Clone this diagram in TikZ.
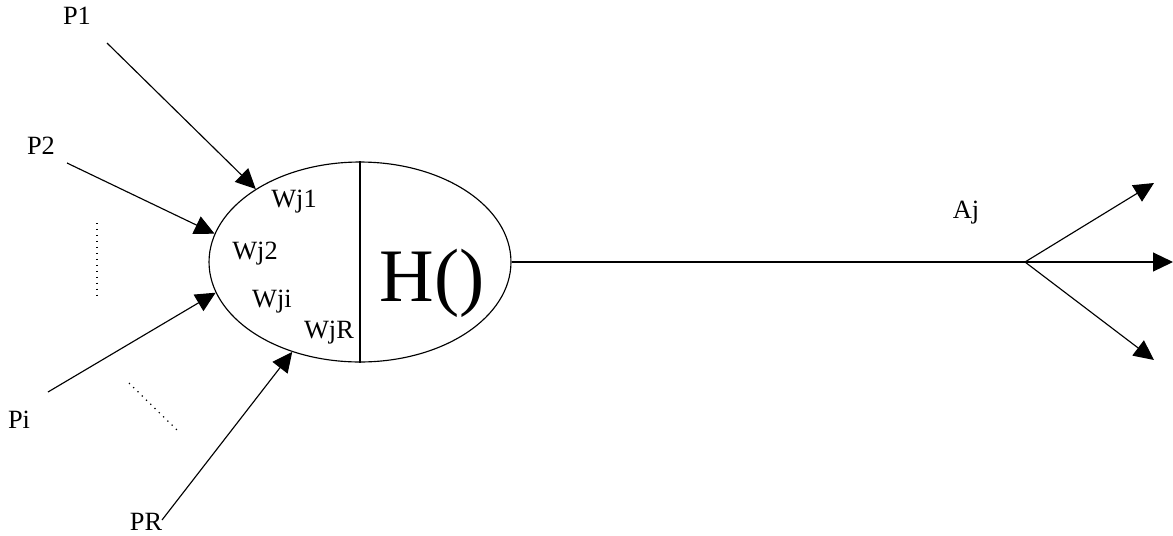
\documentclass[tikz,border=0pt]{standalone}
\usepackage{fontspec}
\setmainfont{Liberation Serif}
\usetikzlibrary{arrows.meta,shapes.geometric}

\begin{document}
\begin{tikzpicture}[x=0.02cm,y=-0.02cm,
    lbl/.style={inner sep=0pt,font=\fontsize{15}{17}\selectfont},
    wire/.style={line width=0.65pt},
    feed/.style={wire,-{Triangle[length=0.4cm,width=0.38cm]}},
    dots/.style={line width=0.7pt,dash pattern=on 0.7pt off 2.7pt}]
  \useasboundingbox (0,0) rectangle (1173,535);
  % neuron body
  \node[ellipse,draw,line width=0.65pt,inner sep=0pt,
        minimum width=6.04cm,minimum height=4cm] (cell) at (360,262) {};
  \draw[wire] (cell.north) -- (cell.south);
  \node[inner sep=0pt,font=\fontsize{43}{47}\selectfont] (hfun) at (432,283) {H()};
  \node[lbl] (w1) at (294,202) {Wj1};
  \node[lbl] (w2) at (255,254) {Wj2};
  \node[lbl] (wi) at (272,302) {Wji};
  \node[lbl] (wr) at (329,333) {WjR};
  % inputs
  \node[lbl] (p1) at (77,16) {P1};
  \node[lbl] (p2) at (41,146) {P2};
  \node[lbl] (pi) at (19,420) {Pi};
  \node[lbl] (pr) at (146,522) {PR};
  \coordinate (p1s) at (107,43);
  \coordinate (p2s) at (67,163);
  \coordinate (pis) at (48,392);
  \coordinate (prs) at (162,520);
  \draw[feed] (p1s) -- (cell.145);
  \draw[feed] (p2s) -- (cell.169);
  \draw[feed] (pis) -- (cell.192.5);
  \draw[feed] (prs) -- (cell.233);
  \draw[dots] (97,223) -- (97,298);
  \draw[dots] (129,383) -- (177,430);
  % output
  \node[lbl] (aj) at (966,213) {Aj};
  \coordinate (fork) at (1025,262);
  \coordinate (o1) at (1154,183);
  \coordinate (o2) at (1173,262);
  \coordinate (o3) at (1154,360);
  \draw[wire] (cell.east) -- (fork);
  \draw[feed] (fork) -- (o1);
  \draw[feed] (fork) -- (o2);
  \draw[feed] (fork) -- (o3);
\end{tikzpicture}
\end{document}
